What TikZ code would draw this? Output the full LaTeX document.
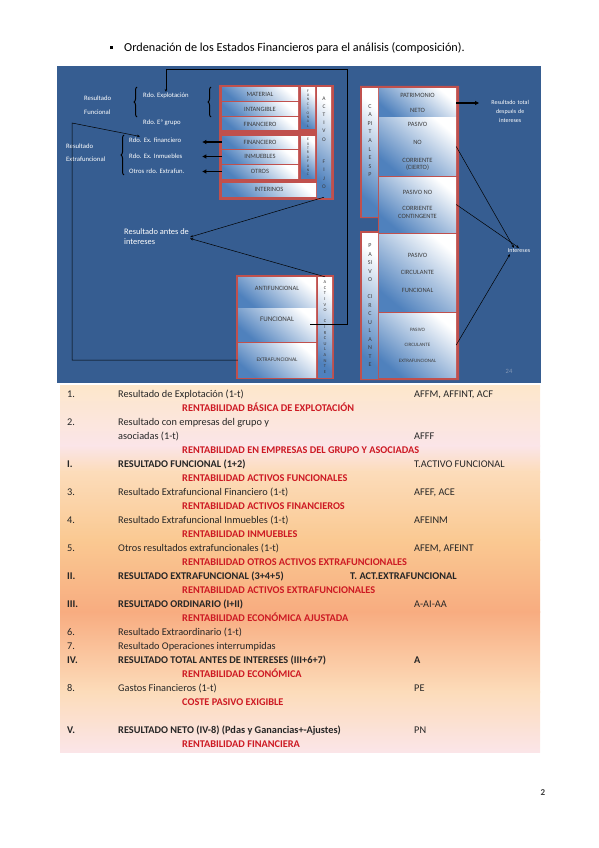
\documentclass[tikz,border=0pt]{standalone}
\usepackage{fontspec}
\setmainfont{Carlito}
\definecolor{panelazul}{RGB}{54,93,145}
\definecolor{rojoborde}{RGB}{192,80,77}
\definecolor{azulcaja}{RGB}{79,129,189}
\definecolor{gristxt}{RGB}{60,60,60}
\definecolor{grisdiapo}{RGB}{130,150,180}
\definecolor{rojorent}{RGB}{205,25,35}
\definecolor{melocoton}{RGB}{253,231,203}
\definecolor{rosa}{RGB}{251,229,232}
\definecolor{naranjaclaro}{RGB}{252,220,186}
\definecolor{naranja}{RGB}{250,201,146}
\definecolor{salmon}{RGB}{248,172,128}
\usetikzlibrary{arrows.meta,positioning,decorations.pathreplacing}

\begin{document}
\frenchspacing
\begin{tikzpicture}[x=1pt, y=-1pt,
  caja/.style={top color=white, bottom color=azulcaja, shading angle=-40, text=gristxt, inner sep=0, align=center, font=\fontsize{6.5}{7.5}\selectfont},
  columna/.style={caja, minimum width=14, font=\fontsize{4.5}{5.6}\selectfont},
  etq/.style={text=white, inner sep=1, align=left, font=\fontsize{6.7}{7.7}\selectfont},
  flecha/.style={line width=1.3pt, -{Triangle[length=4pt,width=4pt]}},
  fina/.style={line width=0.5pt, -{Stealth[length=3pt,width=2.4pt]}},
  llave/.style={decorate, decoration={brace, amplitude=3pt}, line width=1pt},
  fila/.style={anchor=base west, inner sep=0, text=black!85, font=\fontsize{10.3}{12}\selectfont},
  negrita/.style={fila, font=\fontsize{10.3}{12}\selectfont\bfseries},
  rent/.style={fila, text=rojorent, font=\fontsize{10.3}{12}\selectfont\bfseries}]
\useasboundingbox (0,0) rectangle (599,848);

% titulo
\node[fill=black, minimum size=3, inner sep=0] (vineta) at (111,48) {};
\node[anchor=west, inner sep=0, font=\fontsize{12.2}{14}\selectfont] (titulo) at (124,48) {Ordenación de los Estados Financieros para el análisis (composición).};

% diapositiva
\fill[panelazul] (57,66) rectangle (541,383);

% activo fijo
\fill[rojoborde] (219,85) rectangle (334,200);
\node[caja, minimum width=76, minimum height=13] (material) at (260,94.5) {MATERIAL};
\node[caja, minimum width=76, minimum height=13] (intangible) at (260,109.5) {INTANGIBLE};
\node[caja, minimum width=76, minimum height=12] (finfun) at (260,124) {FINANCIERO};
\node[caja, minimum width=76, minimum height=12] (finext) at (260,142) {FINANCIERO};
\node[caja, minimum width=76, minimum height=13] (inmuebles) at (260,156.5) {INMUEBLES};
\node[caja, minimum width=76, minimum height=13] (otros) at (260,171.5) {OTROS};
\node[caja, minimum width=94, minimum height=13] (interinos) at (269,189.5) {INTERINOS};
\node[columna, minimum height=41, font=\fontsize{3.8}{4.4}\selectfont] (colfun) at (308,108.5) {F\\U\\N\\C\\I\\O\\N\\A\\L};
\node[columna, minimum height=42, font=\fontsize{3.8}{4.4}\selectfont] (colext) at (308,157) {E\\X\\T\\R\\A\\F\\U\\N\\C};
\node[columna, minimum height=109, font=\fontsize{5.5}{8.2}\selectfont] (activofijo) at (324,142.5) {A\\C\\T\\I\\V\\O\\[14.5pt]F\\I\\J\\O};

% pasivo
\fill[rojoborde] (360,86) -- (459,86) -- (459,380) -- (360,380) -- (360,231) -- (378,231) -- (378,218) -- (360,218) -- cycle;
\node[caja, minimum width=77, minimum height=28] (patrimonio) at (417.5,103) {PATRIMONIO\\[7pt]NETO};
\node[caja, minimum width=77, minimum height=57] (pasivonc) at (417.5,146.5) {PASIVO\\[10.5pt]NO\\[10.5pt]CORRIENTE\\(CIERTO)};
\node[caja, minimum width=77, minimum height=55] (pasivoncc) at (417.5,204.5) {PASIVO NO\\[8.5pt]CORRIENTE\\CONTINGENTE};
\node[caja, minimum width=77, minimum height=77] (pcfuncional) at (417.5,272.5) {PASIVO\\[10pt]CIRCULANTE\\[10pt]FUNCIONAL};
\node[caja, minimum width=77, minimum height=64, font=\fontsize{5}{6}\selectfont] (pcextraf) at (417.5,345) {PASIVO\\[9.5pt]CIRCULANTE\\[9.5pt]EXTRAFUNCIONAL};
\node[columna, minimum width=16, minimum height=127] (capitales) at (370,152.5) {};
\node[text=gristxt, align=center, inner sep=0, anchor=north, font=\fontsize{6}{8.6}\selectfont] (txtcapitales) at (370,104) {C\\A\\PI\\T\\A\\L\\E\\S\\P};
\node[columna, minimum width=16, minimum height=145, font=\fontsize{6}{8.5}\selectfont] (pasivocirc) at (370,305.5) {P\\A\\SI\\V\\O\\[8.5pt]CI\\R\\C\\U\\L\\A\\N\\T\\E};

% activo circulante
\fill[rojoborde] (236,275) rectangle (334,379);
\node[caja, minimum width=78, minimum height=30, text depth=8pt] (antifuncional) at (277,292) {ANTIFUNCIONAL};
\node[caja, minimum width=78, minimum height=33, text depth=10pt, font=\fontsize{7}{8}\selectfont] (funcional) at (277,324.5) {FUNCIONAL};
\node[caja, minimum width=78, minimum height=34, font=\fontsize{5.5}{6}\selectfont] (extrafuncional) at (277,360) {EXTRAFUNCIONAL};
\node[columna, minimum height=100] (activocirc) at (325,327) {A\\C\\T\\I\\V\\O\\[5.6pt]C\\I\\R\\C\\U\\L\\A\\N\\T\\E};

% resultados
\node[etq, anchor=west] (resfun) at (83,105) {Resultado\\[6.3pt]Funcional};
\node[etq, anchor=west] (resextra) at (65,152.5) {Resultado\\[5.3pt]Extrafuncional};
\node[etq, anchor=west] (rdoexpl) at (142,96) {Rdo. Explotación};
\node[etq, anchor=west] (rdogrupo) at (142,123) {Rdo. Eª grupo};
\node[etq, anchor=west, text width=72] (rdoexf) at (128,140) {Rdo. Ex. financiero};
\node[etq, anchor=west, text width=72] (rdoexi) at (128,156) {Rdo. Ex. Inmuebles};
\node[etq, anchor=west, text width=72] (rdootros) at (128,171) {Otros rdo. Extrafun.};
\node[etq, anchor=west, font=\fontsize{8.4}{10}\selectfont] (resantes) at (123,237) {Resultado antes de\\intereses};
\node[etq, anchor=west, align=center, text width=62, inner sep=0, font=\fontsize{6}{9}\selectfont] (restotal) at (479,111) {Resultado total\\después de\\intereses};
\node[etq, font=\fontsize{6}{7}\selectfont] (intereses) at (519,251) {Intereses};
\node[text=grisdiapo, font=\fontsize{6.5}{7}\selectfont] (diapo) at (509,371) {24};

\draw[llave] (137,117) -- (137,87);
\draw[llave] (211,117) -- (211,87);
\draw[llave] (124,175) -- (124,135);

% flechas
\coordinate (giro) at (347,69);
\coordinate (esquina) at (72,123);
\draw[fina] ([xshift=-6pt]funcional.east) -| (giro) -| (rdoexpl.north);
\draw[fina] (extrafuncional.west) -| (esquina) -- ([xshift=12pt]rdoexf.north west);
\draw[flecha] (finext.west) -- (finext.west -| rdoexf.east);
\draw[flecha] (inmuebles.west) -- (inmuebles.west -| rdoexi.east);
\draw[flecha] (otros.west) -- (otros.west -| rdootros.east);
\draw[flecha] (patrimonio.east) -- (patrimonio.east -| restotal.west);
\draw[fina] (pasivonc.east) -- ([xshift=-5pt]intereses.north);
\draw[fina] (pasivoncc.east) -- (intereses.north);
\draw[fina] (pcextraf.east) -- ([xshift=-9pt]intereses.south);
\draw[fina] (activofijo.south) -- (resantes.east);
\draw[fina] (activocirc.north) -- ([yshift=-1.5pt]resantes.east);

% tabla
\shade[top color=melocoton, bottom color=rosa] (60,385) rectangle (540,446);
\shade[top color=rosa, bottom color=naranjaclaro] (60,445.5) rectangle (540,472);
\shade[top color=naranjaclaro, bottom color=naranja] (60,471.5) rectangle (540,540);
\shade[top color=naranja, bottom color=salmon] (60,539.5) rectangle (540,612);
\shade[top color=salmon, bottom color=naranjaclaro] (60,611.5) rectangle (540,692);
\shade[top color=naranjaclaro, bottom color=rosa] (60,691.5) rectangle (540,752);

\node[fila] (n1) at (67,397.5) {1.};
\node[fila] (t1) at (118,397.5) {Resultado de Explotación (1-t)};
\node[fila] (c1) at (414,397.5) {AFFM, AFFINT, ACF};
\node[rent] (rent1) at (182,411.5) {RENTABILIDAD BÁSICA DE EXPLOTACIÓN};
\node[fila] (n2) at (67,425.5) {2.};
\node[fila] (t2) at (118,425.5) {Resultado con empresas del grupo y};
\node[fila] (t2b) at (118,439.5) {asociadas (1-t)};
\node[fila] (c2) at (414,439.5) {AFFF};
\node[rent] (rent2) at (182,453.5) {RENTABILIDAD EN EMPRESAS DEL GRUPO Y ASOCIADAS};
\node[negrita] (nI) at (67,467.5) {I.};
\node[negrita] (tI) at (118,467.5) {RESULTADO FUNCIONAL (1+2)};
\node[fila] (cI) at (414,467.5) {T.ACTIVO FUNCIONAL};
\node[rent] (rent3) at (182,481.5) {RENTABILIDAD ACTIVOS FUNCIONALES};
\node[fila] (n3) at (67,495.5) {3.};
\node[fila] (t3) at (118,495.5) {Resultado Extrafuncional Financiero (1-t)};
\node[fila] (c3) at (414,495.5) {AFEF, ACE};
\node[rent] (rent4) at (182,509.5) {RENTABILIDAD ACTIVOS FINANCIEROS};
\node[fila] (n4) at (67,523.5) {4.};
\node[fila] (t4) at (118,523.5) {Resultado Extrafuncional Inmuebles (1-t)};
\node[fila] (c4) at (414,523.5) {AFEINM};
\node[rent] (rent5) at (182,537.5) {RENTABILIDAD INMUEBLES};
\node[fila] (n5) at (67,551.5) {5.};
\node[fila] (t5) at (118,551.5) {Otros resultados extrafuncionales (1-t)};
\node[fila] (c5) at (414,551.5) {AFEM, AFEINT};
\node[rent] (rent6) at (182,565.5) {RENTABILIDAD OTROS ACTIVOS EXTRAFUNCIONALES};
\node[negrita] (nII) at (67,579.5) {II.};
\node[negrita] (tII) at (118,579.5) {RESULTADO EXTRAFUNCIONAL (3+4+5)};
\node[negrita] (cII) at (350,579.5) {T. ACT.EXTRAFUNCIONAL};
\node[rent] (rent7) at (182,593.5) {RENTABILIDAD ACTIVOS EXTRAFUNCIONALES};
\node[negrita] (nIII) at (67,607.5) {III.};
\node[negrita] (tIII) at (118,607.5) {RESULTADO ORDINARIO (I+II)};
\node[fila] (cIII) at (414,607.5) {A-AI-AA};
\node[rent] (rent8) at (182,621.5) {RENTABILIDAD ECONÓMICA AJUSTADA};
\node[fila] (n6) at (67,635.5) {6.};
\node[fila] (t6) at (118,635.5) {Resultado Extraordinario (1-t)};
\node[fila] (n7) at (67,649.5) {7.};
\node[fila] (t7) at (118,649.5) {Resultado Operaciones interrumpidas};
\node[negrita] (nIV) at (67,663.5) {IV.};
\node[negrita] (tIV) at (118,663.5) {RESULTADO TOTAL ANTES DE INTERESES (III+6+7)};
\node[negrita] (cIV) at (414,663.5) {A};
\node[rent] (rent9) at (182,677.5) {RENTABILIDAD ECONÓMICA};
\node[fila] (n8) at (67,691.5) {8.};
\node[fila] (t8) at (118,691.5) {Gastos Financieros (1-t)};
\node[fila] (c8) at (414,691.5) {PE};
\node[rent] (rent10) at (182,705.5) {COSTE PASIVO EXIGIBLE};
\node[negrita] (nV) at (67,733.5) {V.};
\node[negrita] (tV) at (118,733.5) {RESULTADO NETO (IV-8) (Pdas y Ganancias+-Ajustes)};
\node[fila] (cV) at (414,733.5) {PN};
\node[rent] (rent11) at (182,747.5) {RENTABILIDAD FINANCIERA};

\node[text=gristxt, font=\fontsize{9}{10}\selectfont\bfseries] (pagina) at (543,793) {2};
\end{tikzpicture}
\end{document}
